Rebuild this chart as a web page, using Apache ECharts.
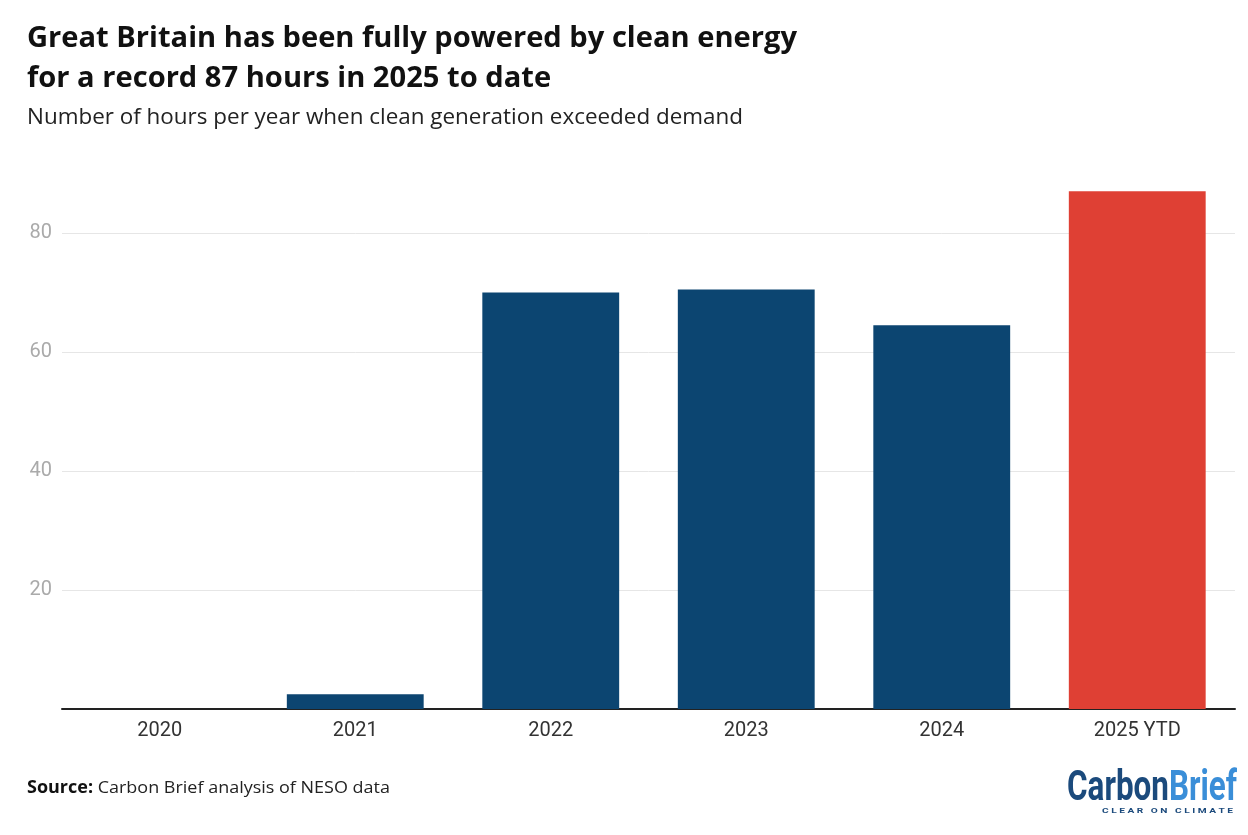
<!DOCTYPE html>
<html>
<head>
<meta charset="utf-8">
<script src="https://cdn.jsdelivr.net/npm/echarts@6/dist/echarts.min.js"></script>
<style>
html,body{margin:0;padding:0;background:#fff;}
#chart{width:1248px;height:835px;}
</style>
</head>
<body>
<div id="chart"></div>
<script>
const categories = ['2020', '2021', '2022', '2023', '2024', '2025 YTD'];
const hours = [0, 2.5, 70, 70.5, 64.5, 87];
const highlightIndex = 5;
const yTicks = [0, 20, 40, 60, 80];

const titleLines = ['Great Britain has been fully powered by clean energy', 'for a record 87 hours in 2025 to date'];
const subtitle = 'Number of hours per year when clean generation exceeded demand';
const sourceBold = 'Source:';
const sourceText = ' Carbon Brief analysis of NESO data';
const logoA = 'Carbon';
const logoB = 'Brief';
const logoTag = 'C L E A R   O N   C L I M A T E';

const navy = '#0c4571';
const red = '#df4034';

const ctx = document.createElement('canvas').getContext('2d');
function textWidth(text, font) { ctx.font = font; return ctx.measureText(text).width; }

const titleFont = 'bold 29px "Open Sans"';
const subFont = '21px "Open Sans"';
const srcBoldFont = 'bold 17px "Open Sans"';
const srcFont = '17px "Open Sans"';
const logoFont = 'bold 42px Roboto';
const tagFont = 'bold 8px Roboto';

const titleScale = 770 / textWidth(titleLines[0], titleFont);
const subScale = 716 / textWidth(subtitle, subFont);
const srcScale = 363 / (textWidth(sourceBold, srcBoldFont) + textWidth(sourceText, srcFont));
const logoScale = 170 / (textWidth(logoA, logoFont) + textWidth(logoB, logoFont));
const tagScale = 131 / textWidth(logoTag, tagFont);

const chart = echarts.init(document.getElementById('chart'), null, {renderer: 'canvas'});

const option = {
  backgroundColor: '#ffffff',
  animation: false,
  grid: {left: 62, right: 13, top: 173.5, bottom: 126, containLabel: false},
  xAxis: {
    type: 'category',
    data: categories,
    axisLine: {show: true, lineStyle: {color: '#222', width: 2}},
    axisTick: {show: false},
    axisLabel: {color: '#333', fontSize: 20, fontFamily: 'Roboto', margin: 12}
  },
  yAxis: {
    type: 'value',
    min: 0,
    max: 90,
    interval: 20,
    axisLine: {show: false},
    axisTick: {show: false},
    axisLabel: {
      color: '#aaaaaa', fontSize: 20, fontFamily: 'Roboto', margin: 10,
      formatter: v => (yTicks.indexOf(v) > 0 ? String(v) : '')
    },
    splitLine: {
      show: true,
      lineStyle: {color: ['transparent', '#e6e6e6', '#e6e6e6', '#e6e6e6', '#e6e6e6', 'transparent'], width: 1}
    }
  },
  series: [{
    type: 'bar',
    data: hours.map((v, i) => ({value: v, itemStyle: {color: i === highlightIndex ? red : navy}})),
    barCategoryGap: '30%',
    z: 3
  }],
  graphic: [
    {type: 'text', left: 27, top: 24.5, scaleX: titleScale, style: {text: titleLines[0], font: titleFont, fill: '#111'}},
    {type: 'text', left: 27, top: 64.5, scaleX: titleScale, style: {text: titleLines[1], font: titleFont, fill: '#111'}},
    {type: 'text', left: 27, top: 108, scaleX: subScale, style: {text: subtitle, font: subFont, fill: '#222'}},
    {type: 'text', left: 27, top: 780, scaleX: srcScale, style: {
      text: '{b|' + sourceBold + '}{r|' + sourceText + '}',
      rich: {
        b: {font: srcBoldFont, fill: '#111'},
        r: {font: srcFont, fill: '#222'}
      }
    }},
    {type: 'text', left: 1067, top: 768, scaleX: logoScale, style: {
      text: '{a|' + logoA + '}{b|' + logoB + '}',
      rich: {
        a: {font: logoFont, fill: '#1b4a7c'},
        b: {font: logoFont, fill: '#3a8ed8'}
      }
    }},
    {type: 'text', left: 1102, top: 807, scaleX: tagScale, style: {text: logoTag, font: tagFont, fill: '#1b4a7c'}}
  ]
};
chart.setOption(option);
</script>
</body>
</html>
